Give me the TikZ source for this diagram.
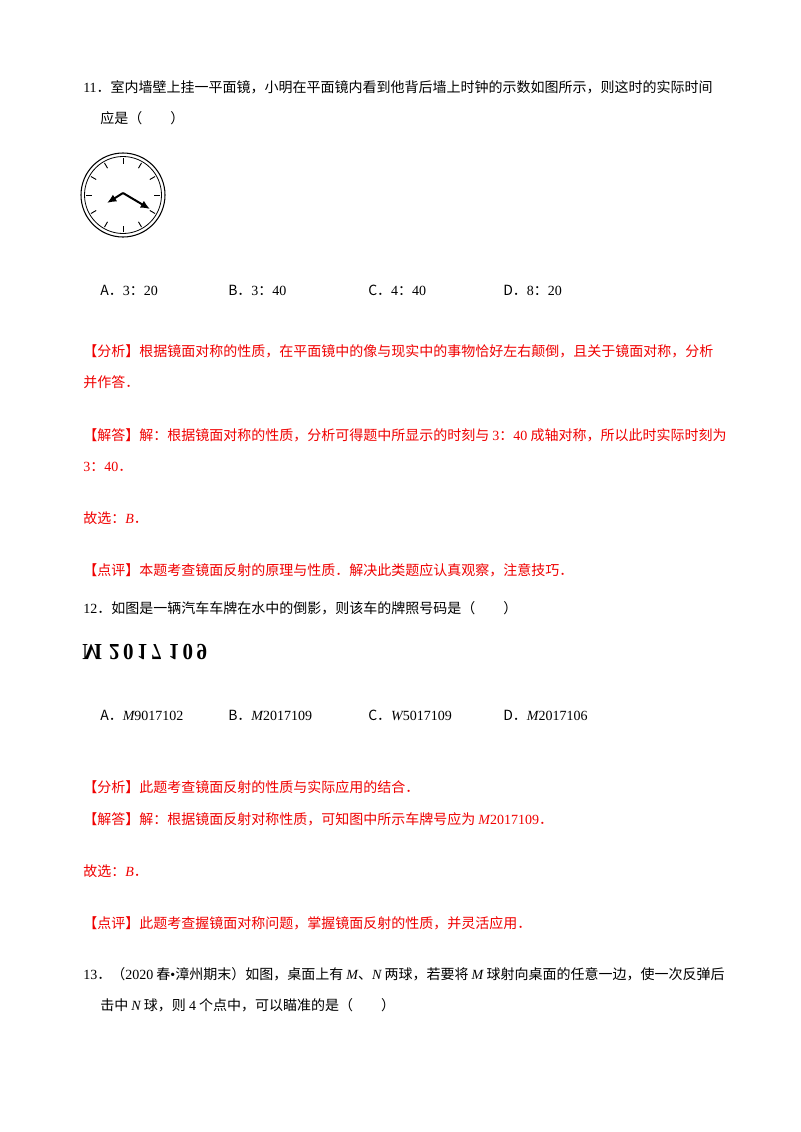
\documentclass[tikz,border=0pt]{standalone}
\usepackage{fontspec}
\usetikzlibrary{arrows.meta,calc}
\setmainfont{Noto Sans CJK SC}
\newfontfamily\ser{Liberation Serif}
\newcommand\sr[1]{{\ser #1}}
\newcommand\iv[1]{{\ser\itshape #1}}
\definecolor{ans}{RGB}{240,0,0}
\begin{document}
\begin{tikzpicture}[x=0.75pt,y=-0.75pt,
  tx/.style={anchor=base west,inner sep=0pt,font=\fontsize{10.5pt}{12pt}\selectfont},
  rd/.style={tx,text=ans},
  hand/.style={line width=1.5pt,-{Latex[length=7pt,width=6pt]}}]
\useasboundingbox[fill=white] (0,0) rectangle (800,1132);
\node[tx] (l1) at (83,92) {\sr{11}．室内墙壁上挂一平面镜，小明在平面镜内看到他背后墙上时钟的示数如图所示，则这时的实际时间};
\node[tx] (l2) at (100,123) {应是（　　）};
% clock
\coordinate (c) at (123,195);
\draw[line width=0.8pt] (c) circle[radius=42];
\draw[line width=0.6pt] (c) circle[radius=38.5];
\foreach \a in {0,30,...,330}{
  \draw[line width=0.7pt] ($(c)+(\a:37)$) -- ($(c)+(\a:31)$);}
\draw[hand] (c) ++(0,-2) coordinate (cc) -- ++(-16,10) coordinate (hh);
\draw[hand] (cc) -- ++(27,16) coordinate (mm);
\node[tx] (o1) at (100,295) {A．\sr{3}：\sr{20}};
\node[tx] (o2) at (228,295) {B．\sr{3}：\sr{40}};
\node[tx] (o3) at (368,295) {C．\sr{4}：\sr{40}};
\node[tx] (o4) at (503,295) {D．\sr{8}：\sr{20}};
\node[rd] (a1) at (83,356) {【分析】根据镜面对称的性质，在平面镜中的像与现实中的事物恰好左右颠倒，且关于镜面对称，分析};
\node[rd] (a2) at (83,387) {并作答．};
\node[rd] (a3) at (83,440) {【解答】解：根据镜面对称的性质，分析可得题中所显示的时刻与 \sr{3}：\sr{40} 成轴对称，所以此时实际时刻为};
\node[rd] (a4) at (83,471) {\sr{3}：\sr{40}．};
\node[rd] (a5) at (83,523) {故选：\iv{B}．};
\node[rd] (a6) at (83,575) {【点评】本题考查镜面反射的原理与性质．解决此类题应认真观察，注意技巧．};
\node[tx] (q2) at (83,613) {\sr{12}．如图是一辆汽车车牌在水中的倒影，则该车的牌照号码是（　　）};
\node[anchor=west,inner sep=0pt] (plate) at (82,652) {\scalebox{1.05}[-1.15]{\fontsize{15pt}{16pt}\selectfont\ser\bfseries M\,\,2\,0\,1\,7\,\,1\,0\,9}};
\node[tx] (p1) at (100,720) {A．\iv{M}\sr{9017102}};
\node[tx] (p2) at (228,720) {B．\iv{M}\sr{2017109}};
\node[tx] (p3) at (368,720) {C．\iv{W}\sr{5017109}};
\node[tx] (p4) at (503,720) {D．\iv{M}\sr{2017106}};
\node[rd] (b1) at (83,792) {【分析】此题考查镜面反射的性质与实际应用的结合．};
\node[rd] (b2) at (83,824) {【解答】解：根据镜面反射对称性质，可知图中所示车牌号应为 \iv{M}\sr{2017109}．};
\node[rd] (b3) at (83,876) {故选：\iv{B}．};
\node[rd] (b4) at (83,928) {【点评】此题考查握镜面对称问题，掌握镜面反射的性质，并灵活应用．};
\node[tx] (q3) at (83,979) {\sr{13}．（\sr{2020} 春\sr{•}漳州期末）如图，桌面上有 \iv{M}、\iv{N} 两球，若要将 \iv{M} 球射向桌面的任意一边，使一次反弹后};
\node[tx] (q3b) at (100,1010) {击中 \iv{N} 球，则 \sr{4} 个点中，可以瞄准的是（　　）};
\end{tikzpicture}
\end{document}
